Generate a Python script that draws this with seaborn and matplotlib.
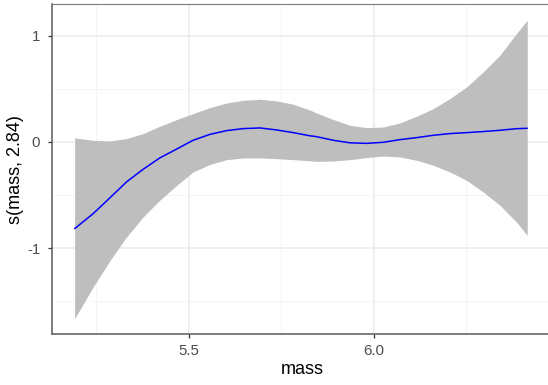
import numpy as np
import pandas as pd
import matplotlib
matplotlib.use("Agg")
import matplotlib.pyplot as plt
import seaborn as sns

mass = [5.192, 5.242, 5.288, 5.332, 5.377, 5.422, 5.468, 5.512, 5.558, 5.603,
        5.648, 5.693, 5.738, 5.783, 5.828, 5.846, 5.891, 5.936, 5.981, 6.026,
        6.071, 6.116, 6.161, 6.206, 6.251, 6.296, 6.341, 6.386, 6.415]
fit = [-0.815, -0.674, -0.523, -0.376, -0.257, -0.150, -0.066, 0.016, 0.072, 0.107,
       0.126, 0.132, 0.113, 0.088, 0.058, 0.050, 0.016, -0.008, -0.013, -0.003,
       0.022, 0.041, 0.063, 0.079, 0.088, 0.098, 0.110, 0.125, 0.129]
upper = [0.038, 0.016, 0.009, 0.032, 0.079, 0.148, 0.211, 0.267, 0.324, 0.367,
         0.392, 0.402, 0.386, 0.355, 0.300, 0.272, 0.211, 0.157, 0.135, 0.141,
         0.179, 0.242, 0.314, 0.408, 0.517, 0.659, 0.816, 1.020, 1.145]
lower = [-1.661, -1.364, -1.113, -0.894, -0.706, -0.548, -0.407, -0.282, -0.210, -0.166,
         -0.150, -0.150, -0.157, -0.166, -0.177, -0.182, -0.179, -0.166, -0.147, -0.132,
         -0.141, -0.172, -0.219, -0.282, -0.360, -0.470, -0.595, -0.753, -0.878]

x_ticks = [5.5, 6.0]
x_ticklabels = ["5.5", "6.0"]
x_minor = [5.25, 5.75, 6.25]
y_ticks = [1, 0, -1]
y_ticklabels = ["1", "0", "-1"]
y_minor = [0.5, -0.5, -1.5]

sns.set_theme(style="white")
plt.rcParams['font.family'] = ['Liberation Sans', 'DejaVu Sans']
plt.rcParams['axes.unicode_minus'] = False

df = pd.DataFrame({"mass": mass, "fit": fit, "upper": upper, "lower": lower})

fig = plt.figure(figsize=(5.48, 3.85), dpi=100)
ax = fig.add_axes([51.7 / 548, 1 - 334 / 385, (553.5 - 51.7) / 548, (334 - 4.3) / 385])

ax.fill_between(df["mass"], df["lower"], df["upper"], color="#BEBEBE", linewidth=0, zorder=2)
sns.lineplot(data=df, x="mass", y="fit", color="#0000FF", linewidth=1.1, ax=ax, zorder=3)

ax.set_xlim(5.130, 6.486)
ax.set_ylim(-1.806, 1.295)

ax.set_xticks(x_ticks)
ax.set_xticklabels(x_ticklabels)
ax.set_xticks(x_minor, minor=True)
ax.set_yticks(y_ticks)
ax.set_yticklabels(y_ticklabels)
ax.set_yticks(y_minor, minor=True)

ax.grid(True, which="major", color="#EBEBEB", linewidth=1.1, zorder=0)
ax.grid(True, which="minor", color="#F2F2F2", linewidth=0.6, zorder=0)
ax.set_axisbelow(True)

for side in ["left", "bottom", "top"]:
    ax.spines[side].set_visible(True)
    ax.spines[side].set_color("#5A5A5A")
ax.spines["left"].set_linewidth(1.1)
ax.spines["bottom"].set_linewidth(1.1)
ax.spines["top"].set_linewidth(0.8)
ax.spines["top"].set_color("#7A7A7A")
ax.spines["right"].set_visible(False)

ax.tick_params(axis="both", which="major", length=3.2, width=0.9, color="#333333",
               labelsize=10.8, labelcolor="#4D4D4D", direction="out",
               bottom=True, left=True)
ax.tick_params(axis="x", which="major", pad=4)
ax.tick_params(axis="y", which="major", pad=5)
ax.tick_params(axis="both", which="minor", length=0)

ax.set_xlabel("mass", fontsize=13, color="black", labelpad=2)
ax.set_ylabel("s(mass, 2.84)", fontsize=13, color="black", labelpad=2)

fig.savefig("out.png", dpi=100)
